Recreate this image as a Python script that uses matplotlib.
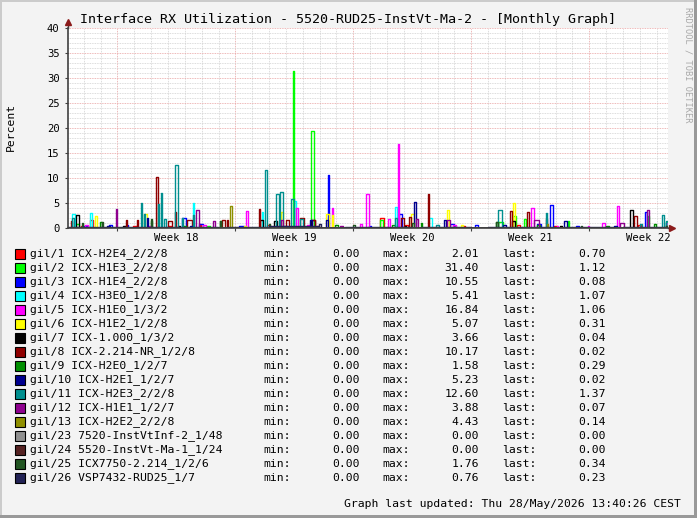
import numpy as np
import matplotlib
matplotlib.use("Agg")
import matplotlib.pyplot as plt
from matplotlib.patches import Rectangle

W, H = 697, 518

# ---- data -------------------------------------------------------------
# time axis in days, 0 = Monday of week 18, 2-hour consolidation steps
T0, T1 = -2.93, 32.67
week_starts = [0, 7, 14, 21, 28]
week_labels = ["Week 18", "Week 19", "Week 20", "Week 21", "Week 22"]

names = ["gil/1 ICX-H2E4_2/2/8", "gil/2 ICX-H1E3_2/2/8", "gil/3 ICX-H1E4_2/2/8",
         "gil/4 ICX-H3E0_1/2/8", "gil/5 ICX-H1E0_1/3/2", "gil/6 ICX-H1E2_1/2/8",
         "gil/7 ICX-1.000_1/3/2", "gil/8 ICX-2.214-NR_1/2/8", "gil/9 ICX-H2E0_1/2/7",
         "gil/10 ICX-H2E1_1/2/7", "gil/11 ICX-H2E3_2/2/8", "gil/12 ICX-H1E1_1/2/7",
         "gil/13 ICX-H2E2_2/2/8", "gil/23 7520-InstVtInf-2_1/48",
         "gil/24 5520-InstVt-Ma-1_1/24", "gil/25 ICX7750-2.214_1/2/6",
         "gil/26 VSP7432-RUD25_1/7"]
colors = ["#FF0000", "#00FF00", "#0000FF", "#00FFFF", "#FF00FF", "#FFFF00",
          "#000000", "#8F0000", "#008F00", "#00008F", "#008F8F", "#8F008F",
          "#8F8F00", "#8F8F8F", "#552222", "#225522", "#222255"]
mins = [0.00] * 17
maxs = [2.01, 31.40, 10.55, 5.41, 16.84, 5.07, 3.66, 10.17, 1.58, 5.23,
        12.60, 3.88, 4.43, 0.00, 0.00, 1.76, 0.76]
lasts = [0.70, 1.12, 0.08, 1.07, 1.06, 0.31, 0.04, 0.02, 0.29, 0.02,
         1.37, 0.07, 0.14, 0.00, 0.00, 0.34, 0.23]

# (day, percent, hours) samples; everything else is 0
spikes = [
    # gil/1
    [(-2.20, 0.5, 4), (-1.62, 1.6, 4), (0.90, 0.4, 6), (3.00, 0.5, 4),
     (4.90, 0.8, 2), (8.90, 0.6, 4), (11.80, 0.5, 4), (15.55, 2.01, 6),
     (17.10, 0.6, 4), (20.50, 0.5, 4), (23.70, 0.7, 4), (25.90, 0.4, 4),
     (30.90, 0.6, 4), (32.55, 0.70, 2)],
    # gil/2
    [(-2.40, 0.8, 4), (5.30, 0.5, 4), (10.42, 31.4, 2), (11.49, 19.5, 4),
     (15.60, 1.6, 4), (19.90, 0.5, 4), (22.60, 1.3, 8), (23.50, 2.4, 4),
     (24.13, 1.8, 2), (26.73, 1.4, 2), (31.50, 2.4, 2), (32.55, 1.12, 2)],
    # gil/3
    [(-2.00, 0.5, 6), (-0.50, 0.6, 4), (0.60, 0.6, 2), (3.78, 2.1, 6),
     (4.85, 0.9, 6), (7.20, 0.4, 6), (9.90, 0.5, 4), (12.50, 10.55, 2),
     (14.90, 0.4, 4), (16.77, 2.8, 4), (19.70, 0.9, 6), (21.22, 0.7, 4),
     (24.90, 0.8, 6), (25.66, 4.6, 4), (27.20, 0.4, 4), (31.35, 3.2, 2),
     (32.55, 0.08, 2)],
    # gil/4
    [(-2.69, 2.8, 4), (-1.56, 3.0, 2), (4.49, 5.0, 2), (8.60, 3.3, 2),
     (10.48, 5.41, 2), (16.47, 4.3, 2), (18.49, 2.1, 4), (32.55, 1.07, 2)],
    # gil/5
    [(-1.90, 0.6, 4), (1.90, 0.5, 4), (5.10, 0.6, 4), (7.64, 3.47, 2),
     (10.59, 4.1, 4), (11.20, 0.6, 6), (12.74, 4.0, 2), (14.40, 0.8, 2),
     (14.72, 6.8, 4), (16.06, 1.9, 2), (16.65, 16.84, 2), (19.90, 0.6, 4),
     (24.60, 4.1, 4), (26.10, 0.4, 2), (27.90, 0.5, 2), (28.74, 1.1, 4),
     (29.69, 4.4, 2), (32.55, 1.06, 2)],
    # gil/6
    [(-1.38, 2.4, 4), (1.58, 2.9, 4), (7.46, 0.4, 4), (9.71, 3.3, 2),
     (12.44, 2.8, 4), (12.74, 2.6, 2), (17.40, 2.8, 4), (19.56, 3.6, 2),
     (20.40, 0.7, 2), (23.48, 5.07, 2), (32.55, 0.31, 2)],
    # gil/7
    [(-2.45, 2.7, 4), (0.30, 0.4, 4), (3.60, 0.5, 4), (8.47, 1.7, 4),
     (9.36, 1.5, 4), (11.50, 1.7, 6), (17.00, 0.5, 4), (23.40, 1.5, 4),
     (26.20, 0.4, 4), (30.40, 3.66, 4), (32.55, 0.04, 2)],
    # gil/8
    [(-2.80, 1.5, 2), (0.52, 1.6, 2), (1.17, 1.7, 2), (2.36, 10.17, 2),
     (2.95, 1.5, 6), (3.39, 3.3, 2), (4.19, 1.6, 6), (6.21, 1.7, 4),
     (6.51, 1.6, 2), (8.41, 3.9, 2), (10.00, 1.7, 4), (10.78, 2.1, 6),
     (11.61, 1.7, 4), (16.80, 2.1, 4), (17.36, 2.2, 2), (18.37, 6.8, 2),
     (23.36, 3.5, 2), (24.36, 3.2, 2), (25.40, 1.8, 2), (30.64, 2.4, 4),
     (32.55, 0.02, 2)],
    # gil/9
    [(-1.00, 1.3, 2), (2.00, 1.5, 2), (3.90, 0.5, 4), (6.09, 1.4, 2),
     (12.90, 0.6, 4), (16.30, 0.7, 4), (18.00, 1.1, 2), (22.50, 1.3, 2),
     (24.90, 0.6, 4), (29.00, 0.5, 4), (31.80, 0.8, 4), (32.55, 0.29, 2)],
    # gil/10
    [(-0.60, 0.4, 4), (1.76, 2.1, 2), (4.30, 0.5, 4), (11.40, 1.7, 4),
     (12.40, 1.6, 2), (17.60, 5.23, 4), (19.38, 1.6, 2), (22.90, 0.6, 4),
     (26.50, 1.5, 4), (29.50, 0.5, 4), (32.55, 0.02, 2)],
    # gil/11
    [(-2.70, 2.0, 2), (1.41, 5.07, 2), (1.60, 2.8, 2), (2.41, 4.9, 2),
     (2.59, 7.0, 2), (2.75, 1.9, 4), (3.39, 12.6, 4), (3.80, 2.1, 2),
     (4.50, 2.6, 2), (8.70, 11.7, 4), (9.40, 6.9, 4), (9.64, 7.2, 4),
     (10.36, 5.9, 4), (10.80, 1.8, 4), (16.45, 2.0, 2), (18.90, 0.7, 4),
     (22.58, 3.6, 6), (25.37, 3.0, 2), (31.00, 0.8, 4), (32.30, 2.7, 2),
     (32.55, 1.37, 2)],
    # gil/12
    [(-0.08, 3.88, 2), (4.67, 3.6, 4), (5.62, 1.4, 4), (9.70, 1.6, 2),
     (13.20, 0.5, 4), (17.70, 1.9, 2), (19.60, 1.7, 4), (24.70, 1.6, 6),
     (29.80, 1.1, 6), (31.41, 3.7, 4), (32.55, 0.07, 2)],
    # gil/13
    [(6.66, 4.43, 4), (25.50, 0.9, 2), (32.55, 0.14, 2)],
    # gil/23
    [],
    # gil/24
    [],
    # gil/25
    [(-2.10, 1.0, 2), (-0.90, 1.3, 2), (2.00, 1.76, 2), (6.09, 1.4, 2),
     (9.00, 0.8, 2), (14.00, 0.6, 2), (17.50, 1.1, 2), (22.50, 1.2, 2),
     (27.50, 0.5, 2), (32.55, 0.34, 2)],
    # gil/26
    [(-2.90, 0.25, 96), (1.00, 0.3, 120), (6.50, 0.2, 60), (9.00, 0.35, 72),
     (12.00, 0.76, 2), (13.50, 0.15, 96), (18.00, 0.3, 72), (22.00, 0.25, 96),
     (26.50, 0.2, 72), (30.00, 0.3, 60), (32.55, 0.23, 2)],
]

# ---- figure -----------------------------------------------------------
def fx(px):
    return px / W

def fy(py):
    return 1 - py / H

MONO = "DejaVu Sans Mono"
plt.rcParams["font.family"] = MONO

fig = plt.figure(figsize=(W / 100, H / 100), dpi=100, facecolor="#F3F3F3")
ax = fig.add_axes([fx(68), fy(228), fx(668) - fx(68), fy(28) - fy(228)])
ax.set_facecolor("white")

t = np.arange(T0, T1, 1 / 12)
for sp, col in zip(spikes, colors):
    v = np.zeros(len(t))
    for day, val, hrs in sp:
        i0 = int(round((day - T0) * 12))
        n = max(1, int(round(hrs / 2)))
        v[i0:i0 + n] = np.maximum(v[i0:i0 + n], val)
    ax.step(np.append(t, T1), np.append(v, v[-1]), where="post",
            color=col, lw=1.0, zorder=3)

ax.set_xlim(T0, T1)
ax.set_ylim(0, 40)
ax.set_yticks(np.arange(0, 41, 5))
ax.set_yticks(np.arange(0, 41, 1), minor=True)
ax.set_xticks(week_starts)
ax.set_xticks(np.arange(-2, 33, 1), minor=True)
ax.set_xticklabels([])
ax.tick_params(axis="y", which="major", labelsize=7.6, length=2, pad=4,
               color="#404040")
ax.tick_params(axis="x", which="major", length=2, color="#404040")
ax.tick_params(which="minor", length=0)
ax.grid(which="minor", color="#D0D0D0", lw=0.6, ls=(0, (1, 1)))
ax.grid(which="major", color="#E8A0A0", lw=0.6, ls=(0, (1, 1)))
ax.set_axisbelow(True)
for s in ("top", "right"):
    ax.spines[s].set_visible(False)
for s in ("left", "bottom"):
    ax.spines[s].set_color("#404040")
    ax.spines[s].set_linewidth(1.2)
    ax.spines[s].set_zorder(4)

for x0, lab in zip(week_starts, week_labels):
    ax.text(x0 + 3.5, -0.025, lab, transform=ax.get_xaxis_transform(),
            ha="center", va="top", fontsize=7.6)

# axis arrows
ax.plot([0, 0], [1, 1.03], transform=ax.transAxes, color="#404040",
        lw=1, clip_on=False)
ax.plot([1, 1.006], [0, 0], transform=ax.transAxes, color="#404040",
        lw=1, clip_on=False)
ax.plot(0, 1.03, marker="^", ms=4, color="#8B1A1A",
        transform=ax.transAxes, clip_on=False)
ax.plot(1.006, 0, marker=">", ms=4, color="#8B1A1A",
        transform=ax.transAxes, clip_on=False)

fig.text(fx(348), fy(19), "Interface RX Utilization - 5520-RUD25-InstVt-Ma-2 - [Monthly Graph]",
         ha="center", va="center", fontsize=9.6)
fig.text(fx(11), fy(127), "Percent", rotation=90, ha="center", va="center",
         fontsize=8.2)
fig.text(fx(688), fy(7), "RRDTOOL / TOBI OETIKER", rotation=-90, ha="center",
         va="top", fontsize=6.2, color="#A8A8A8")

# legend
for i, (nm, col, mn, mx, la) in enumerate(zip(names, colors, mins, maxs, lasts)):
    y = 254 + 14 * i
    fig.patches.append(Rectangle((fx(15), fy(y + 5)), fx(10), fy(y - 5) - fy(y + 5),
                                 transform=fig.transFigure, facecolor=col,
                                 edgecolor="black", lw=0.8))
    fig.text(fx(30), fy(y), nm, va="center", fontsize=8.2)
    fig.text(fx(263), fy(y), "min:", va="center", fontsize=8.2)
    fig.text(fx(360), fy(y), f"{mn:.2f}", va="center", ha="right", fontsize=8.2)
    fig.text(fx(382), fy(y), "max:", va="center", fontsize=8.2)
    fig.text(fx(479), fy(y), f"{mx:.2f}", va="center", ha="right", fontsize=8.2)
    fig.text(fx(502), fy(y), "last:", va="center", fontsize=8.2)
    fig.text(fx(606), fy(y), f"{la:.2f}", va="center", ha="right", fontsize=8.2)

fig.text(fx(681), fy(504), "Graph last updated: Thu 28/May/2026 13:40:26 CEST",
         ha="right", va="center", fontsize=8.2)

# 3D-ish frame
fig.patches.append(Rectangle((0, fy(2)), 1, fy(0) - fy(2), transform=fig.transFigure,
                             color="#CBCBCB", lw=0))
fig.patches.append(Rectangle((0, 0), fx(2), 1, transform=fig.transFigure,
                             color="#CBCBCB", lw=0))
fig.patches.append(Rectangle((0, 0), 1, 1 - fy(3), transform=fig.transFigure,
                             color="#999999", lw=0))
fig.patches.append(Rectangle((fx(694), 0), fx(3), 1, transform=fig.transFigure,
                             color="#999999", lw=0))

fig.savefig("out.png", dpi=100, facecolor=fig.get_facecolor())
